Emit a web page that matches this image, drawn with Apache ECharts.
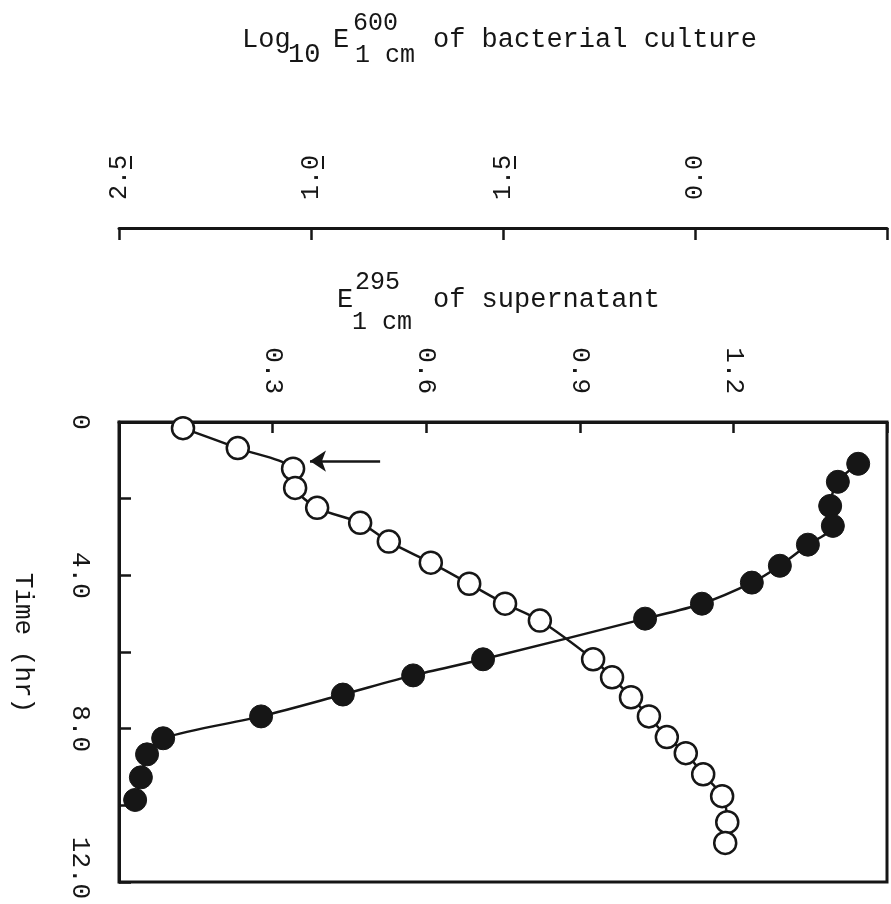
<!DOCTYPE html>
<html>
<head>
<meta charset="utf-8">
<script src="https://cdn.jsdelivr.net/npm/echarts@6/dist/echarts.min.js"></script>
<style>
  html, body { margin: 0; padding: 0; background: #fff; }
  #chart { width: 891px; height: 904px; }
</style>
</head>
<body>
<div id="chart"></div>
<script>
// open circles: E295 of supernatant vs time (hr)
var timeOpen = [0.16, 0.68, 1.22, 1.72, 2.24, 2.63, 3.12, 3.67, 4.22, 4.74, 5.18,
                6.19, 6.66, 7.18, 7.68, 8.22, 8.64, 9.19, 9.76, 10.44, 10.98];
var e295 = [0.125, 0.232, 0.340, 0.344, 0.387, 0.471, 0.527, 0.609, 0.684, 0.754, 0.822,
            0.926, 0.963, 1.000, 1.035, 1.070, 1.107, 1.141, 1.178, 1.188, 1.184];

// filled circles: log10 E600 of bacterial culture vs time (hr)
var timeFilled = [1.09, 1.56, 2.19, 2.71, 3.20, 3.75, 4.19, 4.74, 5.13,
                  6.19, 6.61, 7.11, 7.68, 8.25, 8.67, 9.27, 9.86];
var logE600 = [0.425, 0.372, 0.352, 0.359, 0.294, 0.221, 0.148, 0.018, -0.130,
               -0.552, -0.734, -0.917, -1.130, -1.385, -1.427, -1.443, -1.458];

// tick labels (log axis written in bar notation: 2-bar.5 = -1.5 etc.)
var timeLabels = { 0: '0', 4: '4.0', 8: '8.0', 12: '{last|12.0}' };
var e295Labels = { '0.3': '0.3', '0.6': '0.6', '0.9': '0.9', '1.2': '1.2' };
var logLabels = { '-1.5': '2.5', '-1': '1.0', '-0.5': '1.5', '0': '0.0' };
var logBarred = [-1.5, -1, -0.5];

// arrow pointing at the open circle near 1 hr
var arrowFrom = [0.51, 1.02];
var arrowTo = [0.373, 1.02];

var FONT = 'Liberation Mono';
var INK = '#161616';
var LOG_SIZE = 25;
var LOG_MARGIN = 28;

var dom = document.getElementById('chart');
var myChart = echarts.init(dom);

function zip(xs, ys) {
    return xs.map(function (x, i) { return [x, ys[i]]; });
}

function txt(s, x, y, size, rot) {
    return {
        type: 'text',
        x: x,
        y: y,
        rotation: rot || 0,
        style: {
            text: s,
            font: size + 'px "' + FONT + '"',
            fill: INK,
            textAlign: rot ? 'center' : 'left',
            textVerticalAlign: 'middle',
            align: rot ? 'center' : 'left',
            verticalAlign: 'middle'
        }
    };
}

var graphics = [
    txt('Log', 242, 40, 27),
    txt('10', 288, 55, 27),
    txt('E', 333, 40, 27),
    txt('600', 353, 23, 25),
    txt('1 cm', 355, 55, 25),
    txt('of bacterial culture', 433, 40, 27),
    txt('E', 337, 300, 27),
    txt('295', 355, 282, 25),
    txt('1 cm', 352, 322, 25),
    txt('of supernatant', 433, 300, 27),
    txt('Time (hr)', 23, 643, 26, -Math.PI / 2)
];

var option = {
    backgroundColor: '#fff',
    animation: false,
    grid: {
        left: 119, top: 422, right: 4, bottom: 22,
        outerBoundsMode: 'none',
        containLabel: false,
        show: true,
        borderColor: INK,
        borderWidth: 3
    },
    xAxis: [
        {
            type: 'value',
            position: 'top',
            min: 0, max: 1.5, interval: 0.3,
            axisLine: { lineStyle: { color: INK, width: 3 } },
            axisTick: { inside: true, length: 11, lineStyle: { color: INK, width: 2.5 } },
            splitLine: { show: false },
            axisLabel: {
                rotate: -90,
                margin: 28,
                color: INK,
                fontFamily: FONT,
                fontSize: 26,
                formatter: function (v) {
                    return e295Labels[String(Math.round(v * 10) / 10)] || '';
                }
            }
        },
        {
            type: 'value',
            position: 'top',
            offset: 194,
            min: -1.5, max: 0.5, interval: 0.5,
            axisLine: { onZero: false, lineStyle: { color: INK, width: 3 } },
            axisTick: { inside: true, length: 12, lineStyle: { color: INK, width: 2.5 } },
            splitLine: { show: false },
            axisLabel: {
                rotate: -90,
                margin: LOG_MARGIN,
                color: INK,
                fontFamily: FONT,
                fontSize: LOG_SIZE,
                showMinLabel: true,
                formatter: function (v) {
                    return logLabels[String(Math.round(v * 10) / 10)] || '';
                }
            }
        }
    ],
    yAxis: {
        type: 'value',
        inverse: true,
        min: 0, max: 12, interval: 2,
        axisLine: { lineStyle: { color: INK, width: 3 } },
        axisTick: { inside: true, length: 12, lineStyle: { color: INK, width: 2.5 } },
        splitLine: { show: false },
        axisLabel: {
            rotate: -90,
            margin: 26,
            color: INK,
            fontFamily: FONT,
            fontSize: 26,
            rich: {
                last: { fontFamily: FONT, fontSize: 26, color: INK, padding: [0, 28, 0, 0] }
            },
            formatter: function (v) { return timeLabels[v] || ''; }
        }
    },
    graphic: graphics,
    series: [
        {
            name: 'supernatant',
            type: 'line',
            xAxisIndex: 0,
            data: zip(e295, timeOpen),
            smooth: 0.3,
            symbol: 'circle',
            symbolSize: 22,
            itemStyle: { color: '#fff', borderColor: INK, borderWidth: 2.5 },
            lineStyle: { color: INK, width: 2.5 },
            markLine: {
                silent: true,
                symbol: ['none', 'arrow'],
                symbolSize: 16,
                label: { show: false },
                lineStyle: { color: INK, width: 2.5, type: 'solid' },
                data: [[{ coord: arrowFrom }, { coord: arrowTo }]]
            },
            z: 3
        },
        {
            name: 'culture',
            type: 'line',
            xAxisIndex: 1,
            data: zip(logE600, timeFilled),
            smooth: 0.3,
            symbol: 'circle',
            symbolSize: 23,
            itemStyle: { color: INK, borderColor: INK, borderWidth: 1 },
            lineStyle: { color: INK, width: 2.5 },
            z: 4
        }
    ]
};

myChart.setOption(option);

// bars over the first digit of the log labels
var ctx = document.createElement('canvas').getContext('2d');
ctx.font = LOG_SIZE + 'px "' + FONT + '"';
var axisY = 422 - 194;
logBarred.forEach(function (v) {
    var s = logLabels[String(v)];
    var w = ctx.measureText(s).width;
    var w1 = ctx.measureText(s.charAt(0)).width;
    var px = myChart.convertToPixel({ xAxisIndex: 1 }, v);
    var yEnd = axisY - LOG_MARGIN;
    var yStart = yEnd - w;
    graphics.push({
        type: 'line',
        shape: { x1: px + 12, y1: yStart + 1, x2: px + 12, y2: yStart + w1 - 1 },
        style: { stroke: INK, lineWidth: 2 }
    });
});
myChart.setOption({ graphic: graphics });
</script>
</body>
</html>
